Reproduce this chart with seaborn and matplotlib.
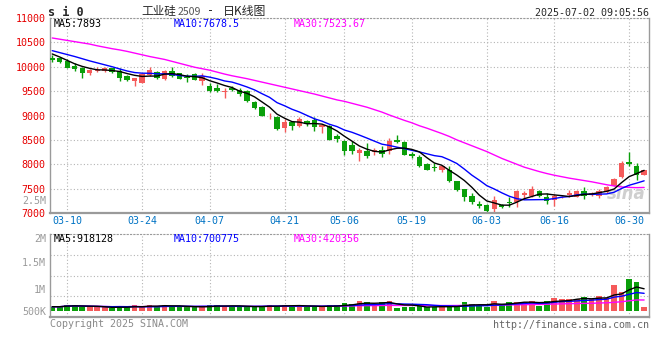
import matplotlib
matplotlib.use("Agg")
import matplotlib.pyplot as plt
import numpy as np
import pandas as pd
import seaborn as sns

# daily candles 2025-03-06 .. 2025-07-02
OPEN = [10186, 10186, 10125, 10008, 9981, 9864, 9920, 9920, 9967, 9920,
        9803, 9700, 9668, 9838, 9900, 9741, 9920, 9873, 9797, 9844,
        9700, 9612, 9571, 9490, 9571, 9530, 9496, 9284, 9182, 8985,
        8977, 8745, 8860, 8792, 8895, 8915, 8758, 8778, 8573, 8485,
        8403, 8233, 8266, 8245, 8300, 8266, 8505, 8450, 8212, 8157,
        8007, 7952, 7891, 7890, 7650, 7494, 7357, 7193, 7173, 7084,
        7167, 7234, 7220, 7372, 7357, 7460, 7337, 7269, 7320, 7372,
        7337, 7460, 7372, 7357, 7425, 7562, 7747, 8055, 7972, 7788]
CLOSE = [10139, 10090, 9981, 9961, 9864, 9940, 9940, 9967, 9900, 9770,
         9721, 9762, 9852, 9940, 9770, 9920, 9817, 9750, 9762, 9735,
         9817, 9510, 9510, 9503, 9530, 9442, 9290, 9147, 8983, 8997,
         8725, 8874, 8792, 8930, 8827, 8758, 8806, 8505, 8520, 8280,
         8266, 8300, 8177, 8300, 8212, 8485, 8465, 8192, 8171, 7958,
         7891, 7917, 7958, 7650, 7474, 7337, 7220, 7152, 7050, 7269,
         7117, 7214, 7460, 7405, 7494, 7357, 7240, 7357, 7330, 7405,
         7460, 7357, 7405, 7460, 7542, 7700, 8020, 8007, 7770, 7880]
HIGH = [10242, 10210, 10150, 10070, 9990, 9960, 10002, 9990, 9975, 9967,
        9830, 9770, 9860, 9985, 9920, 9930, 9985, 9880, 9850, 9870,
        9870, 9660, 9640, 9557, 9600, 9560, 9530, 9300, 9200, 9059,
        8990, 8930, 8880, 8960, 8900, 8960, 8830, 8800, 8620, 8500,
        8485, 8342, 8430, 8340, 8380, 8540, 8608, 8470, 8260, 8190,
        8020, 8020, 7980, 7972, 7660, 7494, 7420, 7250, 7190, 7350,
        7190, 7337, 7470, 7460, 7562, 7480, 7412, 7392, 7350, 7480,
        7470, 7540, 7430, 7500, 7560, 7720, 8075, 8260, 8020, 7890]
LOW = [10104, 10080, 9975, 9920, 9762, 9823, 9900, 9900, 9880, 9705,
       9700, 9600, 9660, 9820, 9750, 9720, 9800, 9740, 9694, 9720,
       9627, 9475, 9475, 9352, 9510, 9410, 9270, 9140, 8980, 8930,
       8710, 8670, 8710, 8770, 8780, 8690, 8645, 8500, 8460, 8200,
       8210, 8075, 8130, 8190, 8140, 8220, 8430, 8190, 8130, 7950,
       7880, 7870, 7850, 7630, 7460, 7255, 7180, 7110, 7009, 7010,
       7100, 7132, 7117, 7290, 7322, 7322, 7187, 7152, 7300, 7322,
       7320, 7290, 7350, 7300, 7410, 7550, 7720, 7972, 7680, 7770]
MA5 = [10262, 10200, 10130, 10060, 10007, 9967, 9937, 9934, 9922, 9903,
       9860, 9824, 9801, 9809, 9809, 9849, 9860, 9839, 9804, 9797,
       9776, 9715, 9667, 9615, 9574, 9499, 9455, 9382, 9278, 9172,
       9028, 8945, 8874, 8864, 8830, 8836, 8823, 8765, 8683, 8574,
       8475, 8374, 8309, 8265, 8251, 8295, 8328, 8331, 8305, 8254,
       8135, 8026, 7979, 7875, 7778, 7667, 7528, 7367, 7247, 7206,
       7162, 7160, 7222, 7293, 7338, 7386, 7391, 7371, 7356, 7338,
       7358, 7382, 7391, 7417, 7445, 7493, 7625, 7746, 7808, 7875]
MA10 = [10330, 10290, 10250, 10210, 10165, 10120, 10080, 10040, 10000, 9955,
        9913, 9881, 9868, 9866, 9856, 9854, 9842, 9820, 9806, 9803,
        9813, 9787, 9753, 9709, 9685, 9638, 9585, 9525, 9447, 9373,
        9264, 9200, 9128, 9071, 9001, 8932, 8884, 8820, 8773, 8702,
        8656, 8598, 8537, 8474, 8412, 8385, 8351, 8320, 8285, 8253,
        8215, 8177, 8155, 8090, 8016, 7901, 7777, 7673, 7561, 7492,
        7414, 7344, 7294, 7270, 7272, 7274, 7276, 7296, 7324, 7338,
        7372, 7387, 7381, 7387, 7391, 7426, 7504, 7569, 7613, 7660]
MA30 = [10590, 10565, 10540, 10515, 10490, 10465, 10430, 10400, 10370, 10345,
        10315, 10280, 10245, 10210, 10180, 10150, 10110, 10070, 10030, 9990,
        9960, 9930, 9890, 9850, 9815, 9785, 9755, 9720, 9685, 9650,
        9615, 9580, 9545, 9510, 9475, 9440, 9400, 9360, 9320, 9290,
        9250, 9210, 9170, 9120, 9070, 9010, 8955, 8900, 8850, 8790,
        8740, 8685, 8630, 8570, 8500, 8440, 8380, 8320, 8260, 8190,
        8120, 8060, 8000, 7940, 7895, 7850, 7810, 7775, 7745, 7715,
        7690, 7665, 7640, 7610, 7580, 7555, 7535, 7525, 7520, 7524]
# volume in thousands, on the chart's own (odd) volume scale
VOLUME_K = [686, 686, 717, 717, 686, 674, 674, 674, 663, 699,
            674, 717, 674, 717, 699, 717, 699, 674, 674, 674,
            699, 717, 717, 686, 686, 699, 686, 686, 686, 717,
            699, 717, 699, 699, 686, 686, 686, 717, 710, 746,
            735, 790, 771, 699, 771, 790, 656, 674, 686, 699,
            686, 674, 686, 686, 710, 771, 735, 705, 686, 790,
            735, 771, 771, 771, 790, 699, 790, 849, 819, 826,
            819, 862, 819, 880, 849, 1079, 958, 1188, 1139, 686]

HOLIDAYS = ["2025-04-04", "2025-05-01", "2025-05-02", "2025-05-05", "2025-06-02"]
TICK_DATES = ["03-10", "03-24", "04-07", "04-21", "05-06", "05-19", "06-03", "06-16", "06-30"]
PRICE_TICKS = [7000, 7500, 8000, 8500, 9000, 9500, 10000, 10500, 11000]
VOL_TICKS = [500_000, 1_000_000, 1_500_000, 2_000_000]
VOL_TICK_LABELS = ["500K", "1M", "1.5M", "2M"]

RED = "#f55a5a"
GREEN = "#0a9f0a"
GRID = "#b4b4b4"
FRAME = "#9a9a9a"
MONO = "DejaVu Sans Mono"
FS = 7.2
W, H = 660, 360


def fx(px):
    return px / W


def fy(py):
    return 1 - py / H


def style_frame(a):
    for side in ["left", "right", "bottom"]:
        a.spines[side].set_color(FRAME)
        a.spines[side].set_linewidth(1.0)
    a.spines["top"].set_color(FRAME)
    a.spines["top"].set_linestyle((0, (1, 2)))
    a.spines["bottom"].set_linewidth(1.6)


def main() -> None:
    sns.set_style("white")
    plt.rcParams["font.family"] = [MONO, "DejaVu Sans"]

    days = pd.bdate_range("2025-03-06", "2025-07-02")
    days = days[~days.isin(pd.to_datetime(HOLIDAYS))]
    labels = days.strftime("%m-%d")
    tick_idx = [i for i, d in enumerate(labels) if d in TICK_DATES]

    o = np.array(OPEN)
    c = np.array(CLOSE)
    x = np.arange(len(c))
    colors = np.where(c >= o, RED, GREEN)

    fig = plt.figure(figsize=(6.6, 3.6), dpi=100)
    ax = fig.add_axes([fx(50), fy(213), 599 / W, 195 / H])
    axv = fig.add_axes([fx(50), fy(317), 599 / W, 83 / H])

    # price panel
    ax.vlines(x, LOW, HIGH, colors=colors, lw=1.0, zorder=2)
    ax.bar(x, np.maximum(np.abs(c - o), 14), bottom=np.minimum(o, c),
           width=0.72, color=colors, lw=0, zorder=3)
    sns.lineplot(x=x, y=MA30, ax=ax, color="#ff00ff", lw=1.0, zorder=4)
    sns.lineplot(x=x, y=MA10, ax=ax, color="#0000ff", lw=1.0, zorder=4)
    sns.lineplot(x=x, y=MA5, ax=ax, color="black", lw=1.0, zorder=5)
    ax.text(0.995, 0.05, "sina", transform=ax.transAxes, ha="right", va="bottom",
            fontsize=12, fontweight="bold", fontstyle="italic",
            family="DejaVu Sans", color="#cfcfcf", zorder=1)

    ax.set_xlim(-0.3, 79.65)
    ax.set_ylim(7000, 11000)
    ax.set_yticks(PRICE_TICKS)
    ax.set_yticklabels([str(v) for v in PRICE_TICKS])
    ax.set_xticks(tick_idx)
    ax.set_xticklabels([labels[i] for i in tick_idx])
    ax.tick_params(axis="y", length=0, pad=3, labelsize=FS, labelcolor="#e60000")
    ax.tick_params(axis="x", length=0, pad=2.5, labelsize=FS, labelcolor="#0073c4")
    ax.grid(True, ls=(0, (1, 2)), color=GRID, lw=0.8)
    ax.set_axisbelow(True)
    ax.set_xlabel("")
    ax.set_ylabel("")
    style_frame(ax)

    # volume panel
    vol = np.array(VOLUME_K) * 1000
    vol_floor = 614_000
    axv.bar(x, vol - vol_floor, bottom=vol_floor, width=0.75, color=colors, lw=0, zorder=2)
    vs = pd.Series(vol)
    for win, col in [(30, "#ff00ff"), (10, "#0000ff"), (5, "black")]:
        sns.lineplot(x=x, y=vs.rolling(win, min_periods=1).mean().values,
                     ax=axv, color=col, lw=1.0, zorder=3)
    axv.set_xlim(-0.3, 79.65)
    axv.set_ylim(500_000, 2_000_000)
    axv.set_yticks(VOL_TICKS)
    axv.set_yticklabels(VOL_TICK_LABELS)
    axv.set_yticks([875_000, 1_250_000, 1_625_000], minor=True)
    axv.set_xticks(tick_idx)
    axv.set_xticklabels([])
    axv.tick_params(axis="both", which="both", length=0)
    axv.tick_params(axis="y", pad=3, labelsize=FS, labelcolor="#9a9a9a")
    axv.grid(False)
    axv.grid(True, axis="x", ls=(0, (1, 2)), color=GRID, lw=0.8)
    axv.grid(True, axis="y", which="minor", ls=(0, (1, 2)), color=GRID, lw=0.8)
    axv.set_axisbelow(True)
    axv.yaxis.get_ticklabels()[0].set_verticalalignment("bottom")
    axv.yaxis.get_ticklabels()[-1].set_verticalalignment("top")
    axv.set_xlabel("")
    axv.set_ylabel("")
    style_frame(axv)

    # header / labels
    fig.text(fx(48), fy(12), "s i 0", fontsize=8.5, fontweight="bold", va="center")
    cjk = ["Noto Sans CJK SC", "DejaVu Sans"]
    fig.text(fx(141), fy(11), "工业硅", family=cjk, fontsize=8.4, va="center")
    fig.text(fx(177.5), fy(12), "2509", family=cjk, fontsize=7.6, va="center", color="#555555")
    fig.text(fx(207), fy(11), "-", family=MONO, fontsize=8.5, va="center")
    fig.text(fx(223), fy(11), "日K线图", family=cjk, fontsize=8.6, va="center")
    fig.text(fx(535), fy(12.5), "2025-07-02 09:05:56", fontsize=FS, va="center")

    fig.text(fx(54), fy(24), "MA5:7893", fontsize=FS, va="center", color="black")
    fig.text(fx(174), fy(24), "MA10:7678.5", fontsize=FS, va="center", color="#0000ff")
    fig.text(fx(294), fy(24), "MA30:7523.67", fontsize=FS, va="center", color="#ff00ff")
    fig.text(fx(54), fy(239), "MA5:918128", fontsize=FS, va="center", color="black")
    fig.text(fx(174), fy(239), "MA10:700775", fontsize=FS, va="center", color="#0000ff")
    fig.text(fx(294), fy(239), "MA30:420356", fontsize=FS, va="center", color="#ff00ff")
    fig.text(fx(46.5), fy(201), "2.5M", fontsize=FS, va="center", ha="right", color="#9a9a9a")

    fig.text(fx(50), fy(324), "Copyright 2025 SINA.COM", fontsize=FS, va="center", color="#8a8a8a")
    fig.text(fx(493), fy(325), "http://finance.sina.com.cn", fontsize=FS, va="center", color="#666666")

    fig.savefig("out.png", dpi=100)
    plt.close(fig)


if __name__ == "__main__":
    main()
